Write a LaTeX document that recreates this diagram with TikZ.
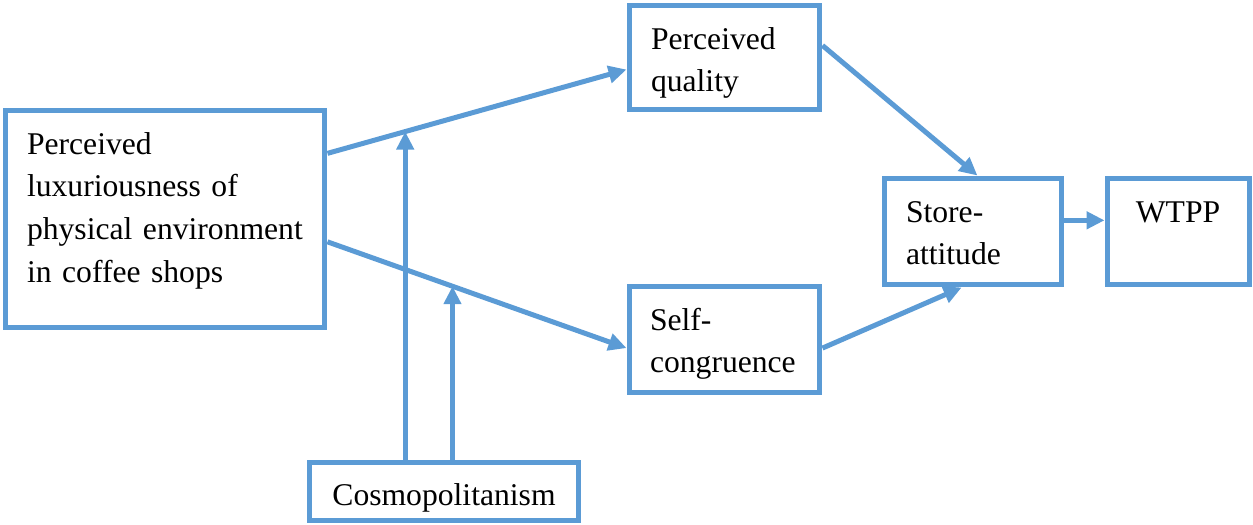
\documentclass[tikz,border=0pt]{standalone}
\usepackage{fontspec}
\setmainfont{Liberation Serif}
\usetikzlibrary{arrows.meta}
\definecolor{boxblue}{HTML}{5B9BD5}

\begin{document}
\begin{tikzpicture}[x=0.02cm,y=-0.02cm]
\tikzstyle{box} = [draw=boxblue,line width=0.1cm,inner xsep=0.44cm,inner ysep=0pt,
  text height=0.88cm,align=left,font=\fontsize{18}{24.4}\selectfont];
\tikzstyle{link} = [draw=boxblue,line width=0.1cm,-{Triangle[length=0.36cm,width=0.34cm]}];
\useasboundingbox (0,0) rectangle (1253,524);

\node [box,text width=5.52cm,text depth=3.48cm] (lux) at (165,219)
  {Perceived\\luxuriousness of\\physical environment\\in coffee shops};
\node [box,text width=2.94cm,text depth=1.22cm] (qual) at (724.5,57.5) {Perceived\\quality};
\node [box,inner xsep=0.42cm,text width=2.98cm,text depth=1.26cm] (self) at (724.5,339.5) {Self-\\congruence};
\node [box,text width=2.66cm,text depth=1.26cm] (store) at (972.5,231.5) {Store-\\attitude};
\node [box,align=center,text width=1.96cm,text depth=1.26cm] (wtpp) at (1178,231.5) {WTPP};
\node [box,align=center,text width=4.52cm,text height=0.86cm,text depth=0.3cm] (cosmo) at (444,491) {Cosmopolitanism};

\draw [link] (lux.22) -- coordinate[pos=0.26] (m1) (qual.187);
\draw [link] (lux.-8.5) -- coordinate[pos=0.418] (m2) (self.185);
\draw [link] (qual.7.5) -- (store.85);
\draw [link] (self.-5) -- (store.259);
\draw [link] (store.7.4) -- (store.7.4 -| wtpp.west);

% moderator
\draw [link] (cosmo.north -| m1) -- (m1);
\draw [link] (cosmo.north -| m2) -- (m2);
\end{tikzpicture}
\end{document}
